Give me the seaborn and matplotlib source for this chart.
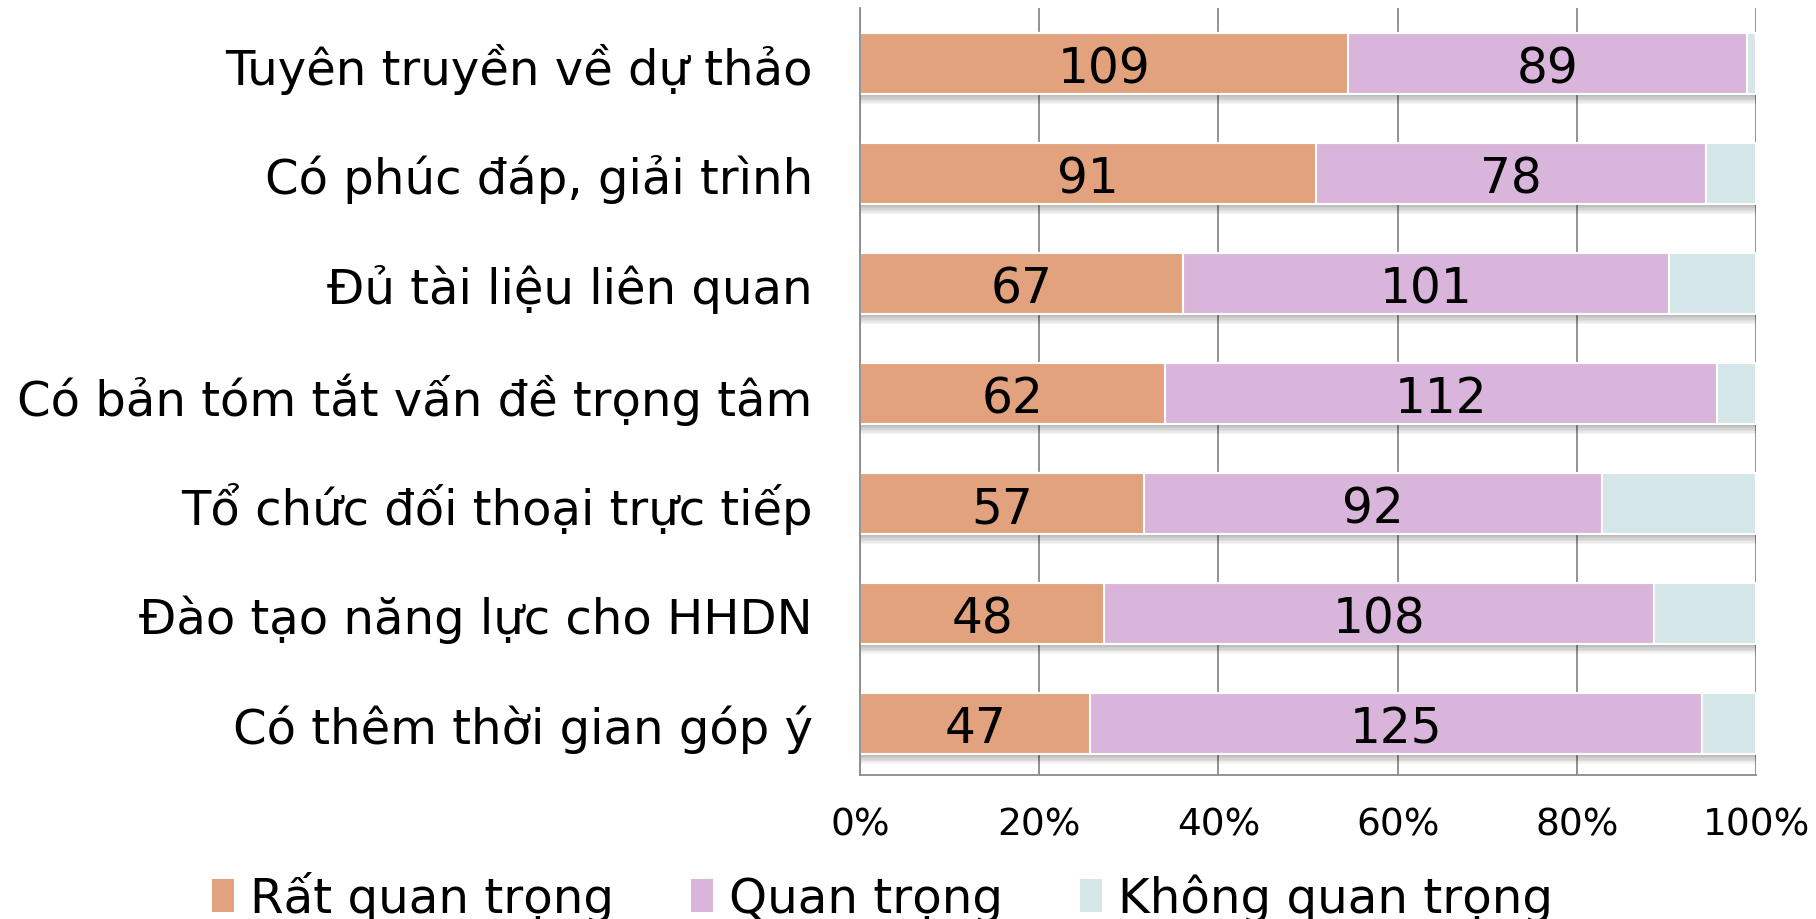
import matplotlib
matplotlib.use("Agg")
import matplotlib.pyplot as plt
import matplotlib.patheffects as pe
from matplotlib.patches import Patch
import seaborn as sns
import pandas as pd

categories = [
    "Tuyên truyền về dự thảo",
    "Có phúc đáp, giải trình",
    "Đủ tài liệu liên quan",
    "Có bản tóm tắt vấn đề trọng tâm",
    "Tổ chức đối thoại trực tiếp",
    "Đào tạo năng lực cho HHDN",
    "Có thêm thời gian góp ý",
]
rat_quan_trong = [109, 91, 67, 62, 57, 48, 47]
quan_trong = [89, 78, 101, 112, 92, 108, 125]
khong_quan_trong = [2, 10, 18, 8, 31, 20, 11]
series_names = ["Rất quan trọng", "Quan trọng", "Không quan trọng"]
colors = ["#E2A27E", "#DAB5DB", "#D4E6E8"]
xticks = [0, 20, 40, 60, 80, 100]
xtick_labels = ["0%", "20%", "40%", "60%", "80%", "100%"]

sns.set_theme(style="white")
plt.rcParams["font.family"] = ["DejaVu Sans"]
plt.rcParams["text.color"] = "black"

df = pd.DataFrame({"cat": categories, "a": rat_quan_trong,
                   "b": quan_trong, "c": khong_quan_trong})
tot = df[["a", "b", "c"]].sum(axis=1)
df["pa"] = df["a"] / tot * 100
df["pb"] = df["b"] / tot * 100
df["pc"] = df["c"] / tot * 100
df["cum1"] = df["pa"]
df["cum2"] = df["pa"] + df["pb"]
df["cum3"] = df["cum2"] + df["pc"]

fig = plt.figure(figsize=(18.16, 9.2), dpi=100)
ax = fig.add_axes([0.4736, 0.1565, 0.4934, 0.8337])
ax.set_axisbelow(True)
ax.xaxis.grid(True, color="#8a8a8a", lw=1.3)

bw = 0.56
sns.barplot(data=df, x="cum3", y="cat", color=colors[2], saturation=1,
            width=bw, edgecolor="white", linewidth=1.5, orient="h", ax=ax)
shadow = [pe.SimplePatchShadow(offset=(0, -k), shadow_rgbFace="#000000", alpha=0.045)
          for k in range(1, 8)]
for p in ax.patches:
    p.set_path_effects(shadow + [pe.Normal()])
sns.barplot(data=df, x="cum2", y="cat", color=colors[1], saturation=1,
            width=bw, edgecolor="white", linewidth=1.5, orient="h", ax=ax)
sns.barplot(data=df, x="cum1", y="cat", color=colors[0], saturation=1,
            width=bw, edgecolor="white", linewidth=1.5, orient="h", ax=ax)

for i, row in df.iterrows():
    ax.text(row["pa"] / 2, i, str(row["a"]), ha="center", va="center_baseline",
            fontsize=35, color="black")
    ax.text(row["pa"] + row["pb"] / 2, i, str(row["b"]), ha="center",
            va="center_baseline", fontsize=35, color="black")

ax.set_xlim(0, 100)
ax.set_ylim(6.47, -0.505)
ax.set_xticks(xticks)
ax.set_xticklabels(xtick_labels)
ax.set_xlabel("")
ax.set_ylabel("")
ax.tick_params(axis="x", length=0, pad=23, labelsize=27, colors="black")
ax.tick_params(axis="y", length=0, pad=34, labelsize=34.7, colors="black")
for s in ["top", "right"]:
    ax.spines[s].set_visible(False)
for s in ["left", "bottom"]:
    ax.spines[s].set_color("#8a8a8a")
    ax.spines[s].set_linewidth(1.3)

handles = [Patch(facecolor=c, edgecolor="none") for c in colors]
leg = fig.legend(handles, series_names, loc="center", bbox_to_anchor=(0.486, 0.024),
                 ncol=3, frameon=False, fontsize=34.8, handlelength=0.45,
                 handleheight=0.65, handletextpad=0.33, columnspacing=1.6)
for t in leg.get_texts():
    t.set_color("black")

fig.savefig("out.png", dpi=100)
